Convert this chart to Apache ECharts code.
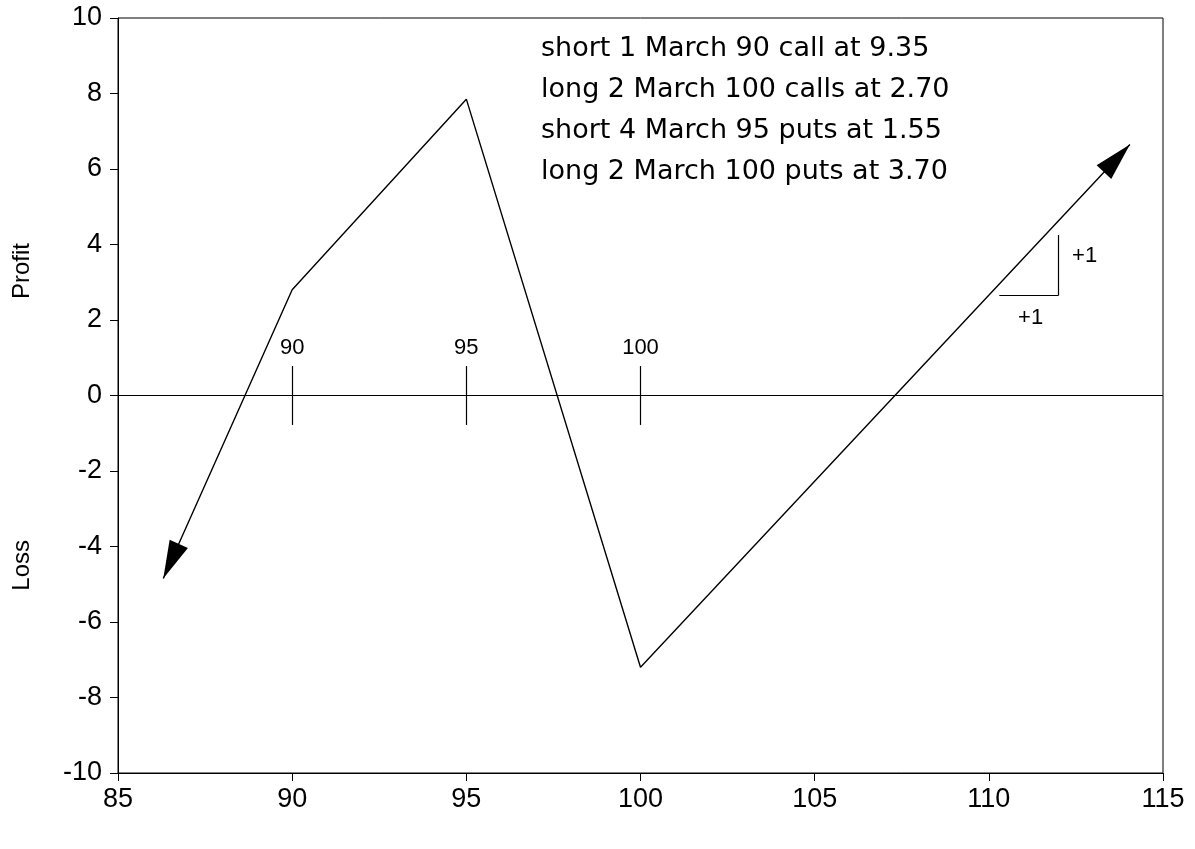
<!DOCTYPE html>
<html><head><meta charset="utf-8">
<script src="https://cdn.jsdelivr.net/npm/echarts@6/dist/echarts.min.js"></script>
<style>html,body{margin:0;padding:0;background:#fff}#c{width:1195px;height:849px}</style>
</head><body><div id="c"></div>
<script>
// ---- data ----
const xMin = 85, xMax = 115, xStep = 5;
const yMin = -10, yMax = 10, yStep = 2;
const payoffX = [86.3, 90, 95, 100, 114.05];
const payoffY = [-4.85, 2.8, 7.85, -7.2, 6.65];
const strikes = [90, 95, 100];
const strikeLabels = ['90', '95', '100'];
const strikeTickHalf = 0.78;
const strikeLabelY = 1.25;
const strategyLines = [
  'short 1 March 90 call at 9.35',
  'long 2 March 100 calls at 2.70',
  'short 4 March 95 puts at 1.55',
  'long 2 March 100 puts at 3.70'
];
const slopeRunX = [110.3, 112.0];
const slopeRiseY = [2.65, 4.25];
const slopeLabels = ['+1', '+1'];
const slopeLabelX = [112.75, 111.2];
const slopeLabelY = [3.7, 2.05];
const axisNames = ['Profit', 'Loss'];

const FONT = 'Liberation Sans, Arial, Helvetica, sans-serif';
const chart = echarts.init(document.getElementById('c'), null, {renderer: 'canvas'});

const lineData = payoffX.map((x, i) => [x, payoffY[i]]);
const labelData = strikes.map((s, i) => ({value: [s, strikeLabelY], name: strikeLabels[i]}))
  .concat(slopeLabels.map((t, i) => ({value: [slopeLabelX[i], slopeLabelY[i]], name: t})));

const markSegs = strikes.map(s => [{coord: [s, -strikeTickHalf]}, {coord: [s, strikeTickHalf]}]);
markSegs.push([{coord: [slopeRunX[0], slopeRiseY[0]]}, {coord: [slopeRunX[1], slopeRiseY[0]]}]);
markSegs.push([{coord: [slopeRunX[1], slopeRiseY[0]]}, {coord: [slopeRunX[1], slopeRiseY[1]]}]);
markSegs.push([{coord: [xMin, 0]}, {coord: [xMax, 0]}]);

function buildOption(items) {
  return {
    animation: false,
    backgroundColor: '#fff',
    textStyle: {fontFamily: FONT},
    grid: {left: 118, right: 32, top: 18, bottom: 76, show: true, borderColor: '#000', borderWidth: 1},
    title: {
      text: strategyLines.join('\n'),
      left: 536, top: 23,
      textStyle: {fontFamily: 'DejaVu Sans, Liberation Sans, sans-serif', fontSize: 27, fontWeight: 'normal', color: '#000', lineHeight: 41}
    },
    graphic: [
      {type: 'text', left: 10, top: 243, rotation: Math.PI / 2,
        style: {text: axisNames[0], font: '24px ' + FONT, fill: '#000'}},
      {type: 'text', left: 10, top: 540, rotation: Math.PI / 2,
        style: {text: axisNames[1], font: '24px ' + FONT, fill: '#000'}}
    ],
    xAxis: {
      type: 'value', min: xMin, max: xMax, interval: xStep,
      axisLine: {onZero: false, lineStyle: {color: '#000', width: 1}},
      axisTick: {show: true, inside: false, length: 8, lineStyle: {color: '#000'}},
      axisLabel: {color: '#000', fontSize: 27, margin: 13, fontFamily: FONT},
      splitLine: {show: false}
    },
    yAxis: {
      type: 'value', min: yMin, max: yMax, interval: yStep,
      axisLine: {onZero: false, lineStyle: {color: '#000', width: 1}},
      axisTick: {show: true, inside: false, length: 8, lineStyle: {color: '#000'}},
      axisLabel: {color: '#000', fontSize: 27, margin: 16, fontFamily: FONT},
      splitLine: {show: false}
    },
    series: [
      {
        type: 'line', data: items, showSymbol: true, symbol: 'none',
        lineStyle: {color: '#000', width: 1.4}, itemStyle: {color: '#000'},
        z: 5,
        markLine: {
          silent: true, symbol: 'none', label: {show: false},
          lineStyle: {color: '#000', width: 1.2, type: 'solid'},
          data: markSegs
        }
      },
      {
        type: 'scatter', data: labelData, symbol: 'circle', symbolSize: 0.01, silent: true,
        itemStyle: {color: '#000'},
        label: {show: true, position: 'inside', formatter: p => p.name,
          color: '#000', fontSize: 22, fontFamily: FONT, textBorderWidth: 0, opacity: 1},
        labelLayout: {hideOverlap: false}
      }
    ]
  };
}

chart.setOption(buildOption(lineData));

// arrowheads at both ends, oriented along the line using the chart's own scales
const AW = 20, AH = 38;
function arrowItem(tipIdx, prevIdx) {
  const tip = chart.convertToPixel({gridIndex: 0}, lineData[tipIdx]);
  const prev = chart.convertToPixel({gridIndex: 0}, lineData[prevIdx]);
  let dx = tip[0] - prev[0], dy = tip[1] - prev[1];
  const len = Math.hypot(dx, dy); dx /= len; dy /= len;
  const rot = Math.atan2(-dx, -dy) * 180 / Math.PI;
  return {
    value: lineData[tipIdx],
    symbol: 'path://M10,0L20,38L0,38Z',
    symbolSize: [AW, AH],
    symbolRotate: rot,
    symbolOffset: [-dx * AH / 2, -dy * AH / 2],
    itemStyle: {color: '#000'}
  };
}
const items = lineData.map(d => d.slice());
items[0] = arrowItem(0, 1);
items[items.length - 1] = arrowItem(lineData.length - 1, lineData.length - 2);
chart.setOption(buildOption(items));
</script>
</body></html>
